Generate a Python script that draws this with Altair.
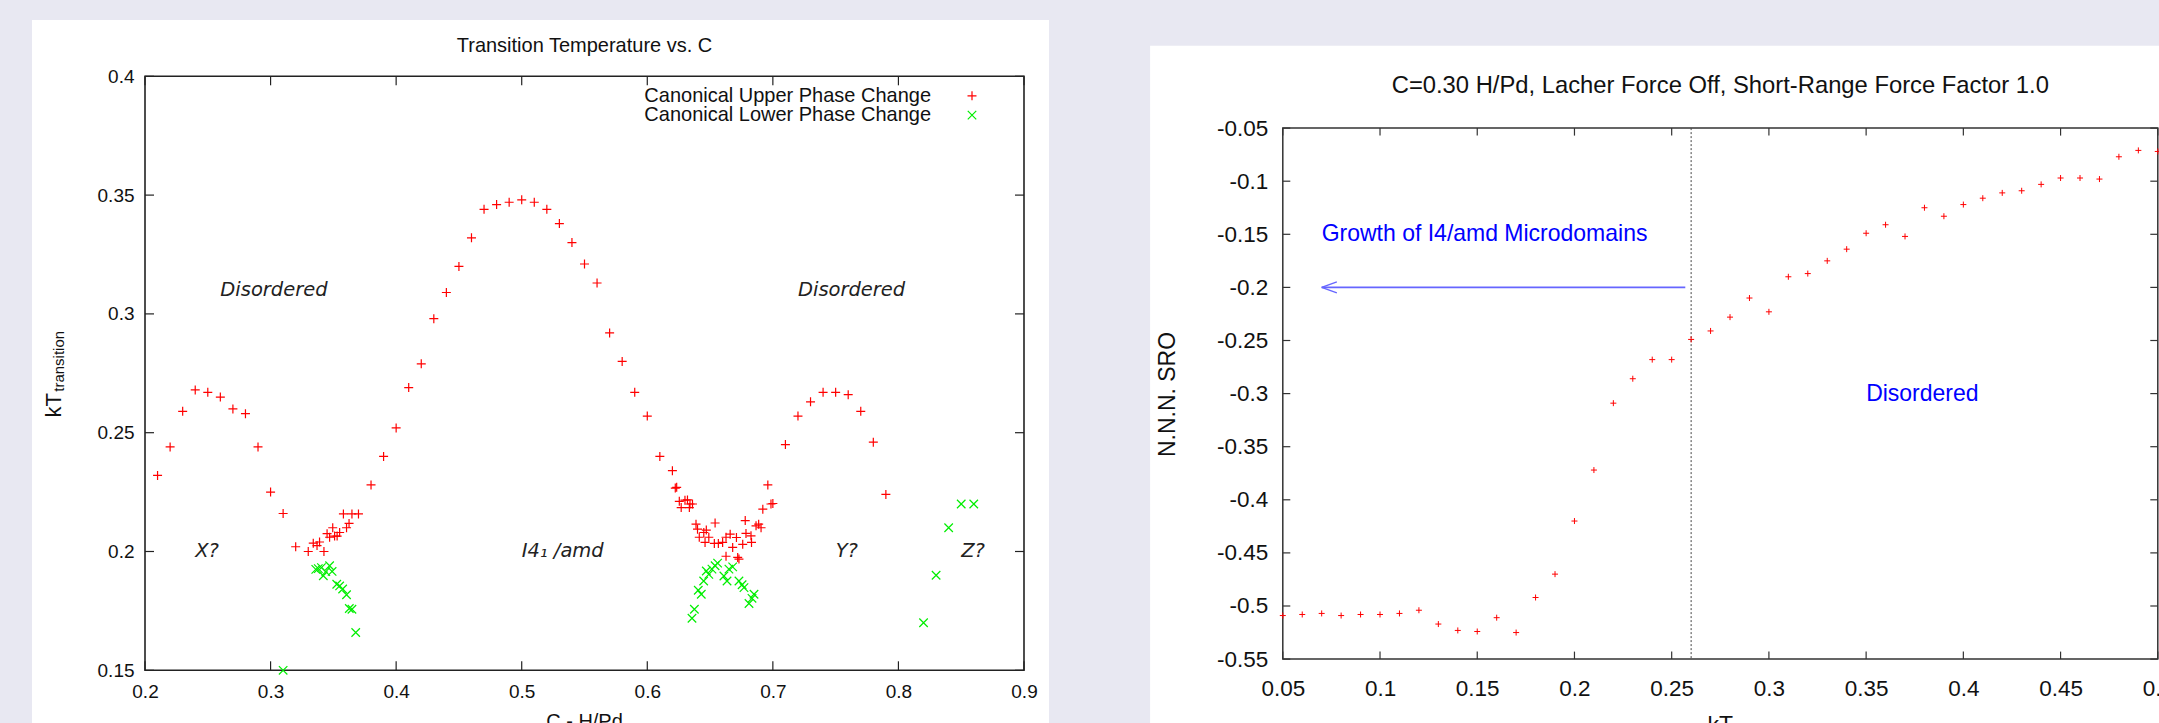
import altair as alt
import pandas as pd

BG = "#e8e8f2"
SANS = "Liberation Sans, Arial, Helvetica, sans-serif"
OBL = "DejaVu Sans, Verdana, sans-serif"

# ---------------- Left panel data: Transition Temperature vs. C ----------------
upper_c = [0.21, 0.22, 0.23, 0.24, 0.25, 0.26, 0.27, 0.28, 0.29, 0.30, 0.31, 0.32, 0.33,
           0.334, 0.337, 0.339, 0.3425, 0.345, 0.347, 0.3495, 0.351, 0.353, 0.355, 0.358,
           0.3605, 0.3625, 0.3648, 0.370,
           0.38, 0.39, 0.40, 0.41, 0.42, 0.43, 0.44, 0.45, 0.46, 0.47, 0.48, 0.49, 0.50,
           0.51, 0.52, 0.53, 0.54, 0.55, 0.56, 0.57, 0.58, 0.59, 0.60, 0.61, 0.62,
           0.6223, 0.6234, 0.6255, 0.627, 0.630, 0.632, 0.6335, 0.634, 0.636, 0.6388, 0.640,
           0.6414, 0.645, 0.647, 0.646, 0.649, 0.654, 0.6534, 0.6566, 0.660, 0.6627, 0.666,
           0.6627, 0.668, 0.671, 0.672, 0.673, 0.676, 0.678, 0.6786, 0.6826, 0.683, 0.6866,
           0.6887, 0.6906, 0.692, 0.696, 0.6985, 0.700,
           0.71, 0.72, 0.73, 0.74, 0.75, 0.76, 0.77, 0.78, 0.79]
upper_kt = [0.232, 0.244, 0.259, 0.268, 0.267, 0.265, 0.260, 0.258, 0.244, 0.225, 0.216, 0.202, 0.200,
            0.2035, 0.2025, 0.204, 0.200, 0.2075, 0.206, 0.210, 0.2065, 0.2065, 0.208, 0.2158,
            0.210, 0.2118, 0.2158, 0.2158,
            0.228, 0.240, 0.252, 0.269, 0.279, 0.298, 0.309, 0.320, 0.332, 0.344, 0.346, 0.347, 0.348,
            0.347, 0.344, 0.338, 0.330, 0.321, 0.313, 0.292, 0.280, 0.267, 0.257, 0.240, 0.234,
            0.2267, 0.2270, 0.2211, 0.2185, 0.2216, 0.2217, 0.2185, 0.2200, 0.2200, 0.2115, 0.2094,
            0.2060, 0.2080, 0.2090, 0.2038, 0.2060, 0.2120, 0.2034, 0.2034, 0.2038, 0.2060, 0.2073,
            0.1980, 0.2017, 0.2059, 0.1975, 0.1968, 0.2030, 0.2130, 0.2076, 0.2066, 0.2038, 0.2108,
            0.2115, 0.2100, 0.2178, 0.2280, 0.2200, 0.2202,
            0.245, 0.257, 0.263, 0.267, 0.267, 0.266, 0.259, 0.246, 0.224]

lower_c = [0.31, 0.336, 0.338, 0.3405, 0.342, 0.344, 0.347, 0.349, 0.3527, 0.355, 0.3574,
           0.3605, 0.3627, 0.3648, 0.3678,
           0.6356, 0.6375, 0.6406, 0.643, 0.6449, 0.647, 0.649, 0.6515, 0.654, 0.656, 0.661,
           0.6635, 0.665, 0.668, 0.673, 0.6755, 0.677, 0.681, 0.6834, 0.685,
           0.82, 0.83, 0.84, 0.85, 0.86]
lower_kt = [0.150, 0.1925, 0.1928, 0.1932, 0.1898, 0.1915, 0.1940, 0.1916, 0.1862, 0.1855, 0.1842,
            0.1818, 0.1760, 0.1757, 0.1659,
            0.1719, 0.1757, 0.1837, 0.1820, 0.1876, 0.1918, 0.1904, 0.1926, 0.1940, 0.1951, 0.1897,
            0.1876, 0.1926, 0.1935, 0.1876, 0.1860, 0.1848, 0.1781, 0.1803, 0.1820,
            0.170, 0.190, 0.210, 0.220, 0.220]

left_xticks = [0.2, 0.3, 0.4, 0.5, 0.6, 0.7, 0.8, 0.9]
left_yticks = [0.15, 0.2, 0.25, 0.3, 0.35, 0.4]
legend_labels = ["Canonical Upper Phase Change", "Canonical Lower Phase Change"]

ann_left_text = ["Disordered", "Disordered", "X?", "I4\u2081 /amd", "Y?", "Z?"]
ann_left_c = [0.26, 0.72, 0.24, 0.50, 0.75, 0.85]
ann_left_k = [0.31, 0.31, 0.20, 0.20, 0.20, 0.20]

# ---------------- Right panel data: N.N.N. SRO vs kT ----------------
sro_kt = [0.05, 0.06, 0.07, 0.08, 0.09, 0.10, 0.11, 0.12, 0.13, 0.14, 0.15, 0.16, 0.17, 0.18,
          0.19, 0.20, 0.21, 0.22, 0.23, 0.24, 0.25, 0.26, 0.27, 0.28, 0.29, 0.30, 0.31, 0.32,
          0.33, 0.34, 0.35, 0.36, 0.37, 0.38, 0.39, 0.40, 0.41, 0.42, 0.43, 0.44, 0.45, 0.46,
          0.47, 0.48, 0.49, 0.50]
sro_val = [-0.509, -0.508, -0.507, -0.509, -0.508, -0.508, -0.507, -0.504, -0.517, -0.523,
           -0.524, -0.511, -0.525, -0.492, -0.470, -0.420, -0.372, -0.309, -0.286, -0.268,
           -0.268, -0.249, -0.241, -0.228, -0.210, -0.223, -0.190, -0.187, -0.175, -0.164,
           -0.149, -0.141, -0.152, -0.125, -0.133, -0.122, -0.116, -0.111, -0.109, -0.103,
           -0.097, -0.097, -0.098, -0.077, -0.071, -0.072]

right_xticks = [0.05, 0.1, 0.15, 0.2, 0.25, 0.3, 0.35, 0.4, 0.45, 0.5]
right_yticks = [-0.55, -0.5, -0.45, -0.4, -0.35, -0.3, -0.25, -0.2, -0.15, -0.1, -0.05]

ann_right_text = ["Growth of I4/amd Microdomains", "Disordered"]
ann_right_kt = [0.07, 0.35]
ann_right_sro = [-0.15, -0.30]
marker_kt = [0.26]
arrow_from_kt, arrow_to_kt, arrow_sro = [0.257], [0.07], [-0.2]

# ---------------- geometry / style ----------------
LW, LH = 879, 594            # left plot area
RW = 875                     # right plot width
RTOP, RBOT = 51.8, 582.8     # right plot area top / bottom inside its (taller) view
PLUS = "M-1,0L1,0M0,-1L0,1"
CROSS = "M-1,-1L1,1M-1,1L1,-1"
LABEL_EXPR = "replace(format(datum.value, '.2~f'), '\u2212', '-')"


def one():
    return alt.Data(values=[{"k": 0}])


def prect(x, x2, y, y2, **kw):
    return alt.Chart(one()).mark_rect(**kw).encode(
        x=alt.value(x), x2=alt.value(x2), y=alt.value(y), y2=alt.value(y2))


def ptext(txt, x, y, **kw):
    return alt.Chart(one()).mark_text(text=txt, **kw).encode(x=alt.value(x), y=alt.value(y))


def tick_layers(xs, ys, xscale, yscale, xaxis, yaxis, x0, x1, y0, y1, L, color="#222"):
    dx = pd.DataFrame({"v": xs})
    dy = pd.DataFrame({"v": ys})
    out = []
    for a, b in [(y0, y0 + L), (y1 - L, y1)]:
        out.append(alt.Chart(dx).mark_rule(color=color, strokeWidth=1.2).encode(
            x=alt.X("v:Q", scale=xscale, axis=xaxis), y=alt.value(a), y2=alt.value(b)))
    for a, b in [(x0, x0 + L), (x1 - L, x1)]:
        out.append(alt.Chart(dy).mark_rule(color=color, strokeWidth=1.2).encode(
            y=alt.Y("v:Q", scale=yscale, axis=yaxis), x=alt.value(a), x2=alt.value(b)))
    return out


def axis(vals, size, pad):
    return alt.Axis(values=vals, labelExpr=LABEL_EXPR, ticks=False, domain=False, grid=False,
                    labelFont=SANS, labelFontSize=size, labelColor="#111", labelPadding=pad,
                    labelFlush=False, labelOverlap=False, labelBound=False,
                    title=None, zindex=2)


# ================= LEFT CHART =================
lx = alt.Scale(domain=[0.2, 0.9], nice=False, zero=False)
ly = alt.Scale(domain=[0.15, 0.4], nice=False, zero=False)

up_df = pd.DataFrame({"c": upper_c, "kt": upper_kt})
lo_df = pd.DataFrame({"c": lower_c, "kt": lower_kt})
ann_l = pd.DataFrame({"c": ann_left_c, "kt": ann_left_k, "t": ann_left_text})

xaxis_l = axis(left_xticks, 19, 12)
yaxis_l = axis(left_yticks, 19, 11)

left_layers = [prect(-113, 904, -56.2, 660, color="white")]
left_layers += tick_layers(left_xticks, left_yticks, lx, ly, xaxis_l, yaxis_l, 0, LW, 0, LH, 9)
left_layers.append(prect(0, LW, 0, LH, fillOpacity=0, stroke="#222", strokeWidth=1.6))
left_layers.append(
    alt.Chart(up_df).mark_point(shape=PLUS, size=81, strokeWidth=1.2, color="#ff0000", opacity=1).encode(
        x=alt.X("c:Q", scale=lx, axis=xaxis_l), y=alt.Y("kt:Q", scale=ly, axis=yaxis_l)))
left_layers.append(
    alt.Chart(lo_df).mark_point(shape=CROSS, size=72, strokeWidth=1.2, color="#00ee00", opacity=1).encode(
        x=alt.X("c:Q", scale=lx, axis=xaxis_l), y=alt.Y("kt:Q", scale=ly, axis=yaxis_l)))
left_layers.append(
    alt.Chart(ann_l).mark_text(font=OBL, fontStyle="italic", fontSize=19.5, align="left",
                               baseline="middle", color="#222").encode(
        x=alt.X("c:Q", scale=lx, axis=xaxis_l), y=alt.Y("kt:Q", scale=ly, axis=yaxis_l), text="t:N"))
# legend (gnuplot style: label then symbol)
left_layers.append(ptext(legend_labels[0], 786, 19.5, font=SANS, fontSize=20, align="right",
                         baseline="middle", color="#111"))
left_layers.append(ptext(legend_labels[1], 786, 38.8, font=SANS, fontSize=20, align="right",
                         baseline="middle", color="#111"))
left_layers.append(alt.Chart(one()).mark_point(shape=PLUS, size=81, strokeWidth=1.2, color="#ff0000",
                                               opacity=1).encode(x=alt.value(827), y=alt.value(19.5)))
left_layers.append(alt.Chart(one()).mark_point(shape=CROSS, size=72, strokeWidth=1.2, color="#00ee00",
                                               opacity=1).encode(x=alt.value(827), y=alt.value(38.8)))
# titles
left_layers.append(ptext("Transition Temperature vs. C", LW / 2, -30, font=SANS, fontSize=20,
                         align="center", baseline="middle", color="#111"))
left_layers.append(ptext("C - H/Pd", LW / 2, LH + 58, font=SANS, fontSize=20, align="center",
                         baseline="alphabetic", color="#111"))
left_layers.append(ptext("kT", -91, 329, font=SANS, fontSize=22, angle=270, align="center",
                         baseline="middle", color="#111"))
left_layers.append(ptext("transition", -86, 285, font=SANS, fontSize=15, angle=270, align="center",
                         baseline="middle", color="#111"))

left = alt.layer(*left_layers).properties(width=LW, height=LH)

# ================= RIGHT CHART =================
rx = alt.Scale(domain=[0.05, 0.5], nice=False, zero=False)
ry = alt.Scale(domain=[-0.55, -0.05], range=[RBOT, RTOP], nice=False, zero=False)

sro_df = pd.DataFrame({"kt": sro_kt, "sro": sro_val})
ann_r = pd.DataFrame({"kt": ann_right_kt, "sro": ann_right_sro, "t": ann_right_text})
vline = pd.DataFrame({"kt": marker_kt})
arrow = pd.DataFrame({"x": arrow_from_kt, "x2": arrow_to_kt, "y": arrow_sro})
head = pd.DataFrame({"x": [arrow_to_kt[0]] * 2,
                     "x2": [arrow_to_kt[0] + 0.0078] * 2,
                     "y": [arrow_sro[0]] * 2,
                     "y2": [arrow_sro[0] + 0.0052, arrow_sro[0] - 0.0052]})

xaxis_r = axis(right_xticks, 22.5, 18)
yaxis_r = axis(right_yticks, 22.5, 15)

right_layers = [prect(-132.7, 900, -30.5, 660, color="white")]
right_layers += tick_layers(right_xticks, right_yticks, rx, ry, xaxis_r, yaxis_r,
                            0, RW, RTOP, RBOT, 7.5, color="#333")
right_layers.append(prect(0, RW, RTOP, RBOT, fillOpacity=0, stroke="#333", strokeWidth=1.5))
right_layers.append(alt.Chart(vline).mark_rule(color="#444", strokeWidth=1, strokeDash=[2, 2]).encode(
    x=alt.X("kt:Q", scale=rx, axis=xaxis_r), y=alt.value(RTOP), y2=alt.value(RBOT)))
right_layers.append(alt.Chart(arrow).mark_rule(color="#6666ff", strokeWidth=1.6).encode(
    x=alt.X("x:Q", scale=rx, axis=xaxis_r), x2="x2:Q", y=alt.Y("y:Q", scale=ry, axis=yaxis_r)))
right_layers.append(alt.Chart(head).mark_rule(color="#6666ff", strokeWidth=1.4).encode(
    x=alt.X("x:Q", scale=rx, axis=xaxis_r), x2="x2:Q", y=alt.Y("y:Q", scale=ry, axis=yaxis_r), y2="y2:Q"))
right_layers.append(
    alt.Chart(sro_df).mark_point(shape=PLUS, size=36, strokeWidth=1, color="#ff0000", opacity=1).encode(
        x=alt.X("kt:Q", scale=rx, axis=xaxis_r), y=alt.Y("sro:Q", scale=ry, axis=yaxis_r)))
right_layers.append(
    alt.Chart(ann_r).mark_text(font=SANS, fontSize=23, align="left", baseline="middle",
                               color="#0000ff").encode(
        x=alt.X("kt:Q", scale=rx, axis=xaxis_r), y=alt.Y("sro:Q", scale=ry, axis=yaxis_r), text="t:N"))
right_layers.append(ptext("C=0.30 H/Pd, Lacher Force Off, Short-Range Force Factor 1.0", RW / 2, 9.8,
                          font=SANS, fontSize=23.8, align="center", baseline="middle", color="#111"))
right_layers.append(ptext("N.N.N. SRO", -114.5, 318.2, font=SANS, fontSize=23, angle=270,
                          align="center", baseline="middle", color="#111"))
right_layers.append(ptext("kT", RW / 2, 656.3, font=SANS, fontSize=23, align="center",
                          baseline="alphabetic", color="#111"))

right = alt.layer(*right_layers).properties(width=RW, height=RBOT)

# The page is exactly 2159 x 723: the outermost label and the two x-axis titles are
# cut by the page edge, as in the original screenshot (negative padding trims the overflow).
chart = alt.hconcat(left, right, spacing=100.8).properties(
    padding={"left": 32, "top": 19.3, "right": -24.2, "bottom": -12.5},
    background=BG,
).configure_view(strokeOpacity=0)

chart.save("out.html", embed_options={"renderer": "svg", "actions": False})
